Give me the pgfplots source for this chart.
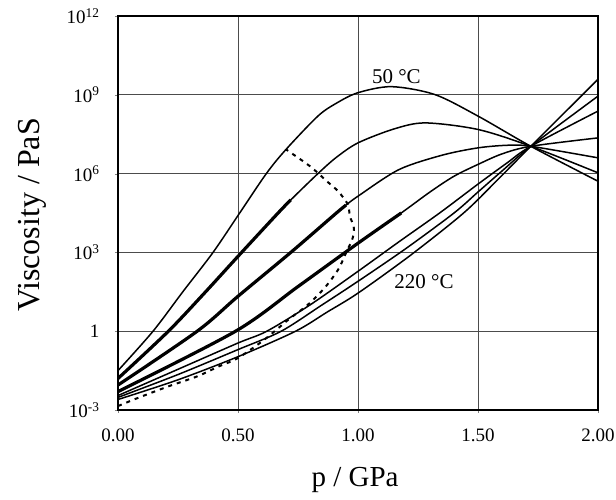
\documentclass[border=0pt]{standalone}
\usepackage{fontspec}
\setmainfont{Liberation Serif}
\usepackage{pgfplots}
\pgfplotsset{compat=1.18}
\usetikzlibrary{calc}

% viscosity curves, y given as log10(eta / Pa s)
\pgfplotstableread{
p     ly
0.000 -1.50
0.146  0.00
0.270  1.50
0.396  3.00
0.507  4.50
0.618  6.00
0.700  6.92
0.833  8.19
0.910  8.68
1.000  9.08
1.140  9.31
1.320  9.01
1.500  8.19
1.720  7.04
2.000  5.71
}\tA
\pgfplotstableread{
p     ly
0.000 -1.80
0.210  0.00
0.360  1.45
0.500  2.85
0.667  4.50
0.720  5.00
0.833  6.00
0.910  6.62
1.000  7.17
1.150  7.70
1.280  7.93
1.500  7.68
1.720  7.04
2.000  6.03
}\tB
\pgfplotstableread{
p     ly
0.000 -2.05
0.330  0.00
0.500  1.33
0.720  3.00
0.910  4.50
0.950  4.80
1.000  5.14
1.170  6.15
1.350  6.70
1.500  6.98
1.625  7.08
1.720  7.04
2.000  6.60
}\tC
\pgfplotstableread{
p     ly
0.000 -2.30
0.490  0.00
0.750  1.70
1.000  3.35
1.180  4.50
1.300  5.30
1.400  5.90
1.500  6.35
1.600  6.75
1.720  7.04
2.000  7.36
}\tD
\pgfplotstableread{
p     ly
0.000 -2.45
0.250 -1.45
0.500 -0.45
0.620  0.00
0.800  1.00
1.000  2.28
1.170  3.40
1.340  4.50
1.500  5.60
1.620  6.40
1.720  7.04
2.000  8.38
}\tE
\pgfplotstableread{
p     ly
0.000 -2.52
0.250 -1.65
0.500 -0.70
0.680  0.00
0.850  1.00
1.000  1.90
1.200  3.15
1.400  4.50
1.500  5.30
1.600  6.10
1.720  7.04
2.000  8.95
}\tF
\pgfplotstableread{
p     ly
0.000 -2.60
0.250 -1.85
0.500 -0.97
0.740  0.00
0.870  0.72
1.000  1.45
1.220  2.90
1.440  4.50
1.580  5.75
1.720  7.04
2.000  9.59
}\tG
% thick (measured) parts
\pgfplotstableread{
p     ly
0.000 -1.80
0.210  0.00
0.360  1.45
0.500  2.85
0.667  4.50
0.720  5.00
}\tBt
\pgfplotstableread{
p     ly
0.000 -2.05
0.330  0.00
0.500  1.33
0.720  3.00
0.910  4.50
0.950  4.80
}\tCt
\pgfplotstableread{
p     ly
0.000 -2.30
0.490  0.00
0.750  1.70
1.000  3.35
1.180  4.50
}\tDt
% dotted boundary
\pgfplotstableread{
p     ly
0.000 -2.85
0.083 -2.54
0.210 -2.10
0.330 -1.72
0.420 -1.34
0.500 -1.02
0.610 -0.32
0.710  0.44
0.790  1.00
0.860  1.64
0.917  2.34
0.950  2.98
0.978  3.55
0.982  3.99
0.966  4.37
0.958  4.82
0.917  5.33
0.870  5.71
0.800  6.28
0.700  6.92
}\tDot

\begin{document}
\begin{tikzpicture}
\begin{axis}[
    name=ax,
    scale only axis,
    width=480pt, height=394pt,
    xmin=0, xmax=2, ymin=-3, ymax=12,
    xtick={0,0.5,1,1.5,2},
    xticklabels={0.00,0.50,1.00,1.50,2.00},
    ytick={-3,0,3,6,9,12},
    yticklabels={10\textsuperscript{-3},1,10\textsuperscript{3},10\textsuperscript{6},10\textsuperscript{9},10\textsuperscript{12}},
    tick label style={font=\fontsize{19}{22}\selectfont},
    xticklabel style={yshift=-12pt},
    yticklabel style={xshift=-12pt},
    tick align=outside, tick pos=left,
    major tick length=3pt,
    grid=major,
    major grid style={black!70, line width=0.9pt},
    axis line style={line width=2.4pt},
    xlabel={p / GPa},
    ylabel={Viscosity / PaS},
    xlabel style={font=\fontsize{29}{32}\selectfont, at={(axis description cs:0.494,-0.178)}, anchor=center},
    ylabel style={font=\fontsize{32}{36}\selectfont, at={(axis description cs:-0.178,0.495)}, anchor=center},
    clip=true,
]
\addplot[black, line width=1.5pt, smooth] table {\tA};
\addplot[black, line width=1.5pt, smooth] table {\tB};
\addplot[black, line width=1.5pt, smooth] table {\tC};
\addplot[black, line width=1.5pt, smooth] table {\tD};
\addplot[black, line width=1.5pt, smooth] table {\tE};
\addplot[black, line width=1.5pt, smooth] table {\tF};
\addplot[black, line width=1.5pt, smooth] table {\tG};
\addplot[black, line width=3.2pt, smooth] table {\tBt};
\addplot[black, line width=3.2pt, smooth] table {\tCt};
\addplot[black, line width=3.2pt, smooth] table {\tDt};
\addplot[black, line width=2pt, smooth, tension=0.5, dash pattern=on 4pt off 5pt] table {\tDot};
\node[font=\fontsize{21}{24}\selectfont] at (axis cs:1.16,9.71) {50 °C};
\node[font=\fontsize{21}{24}\selectfont] at (axis cs:1.275,1.9) {220 °C};
\end{axis}
\pgfresetboundingbox
\path[use as bounding box] ($(ax.south west)+(-118pt,-89pt)$) rectangle ($(ax.north east)+(18pt,16pt)$);
\end{tikzpicture}
\end{document}
